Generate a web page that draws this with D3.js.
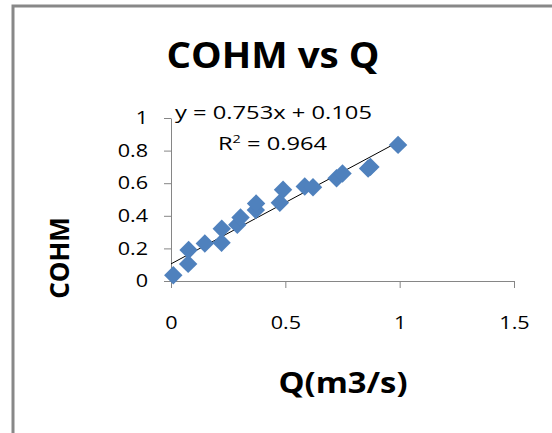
<!DOCTYPE html>
<html>
<head>
<meta charset="utf-8">
<script src="https://cdn.jsdelivr.net/npm/d3@7"></script>
<style>
  body { margin: 0; background: #fff; }
  svg { display: block; }
  text { font-family: "Open Sans", sans-serif; fill: #000; }
  .tick text { font-size: 18px; }
  .domain, .tick line { stroke: #868686; }
</style>
</head>
<body>
<div id="chart"></div>
<script>
// measured points (Q in m3/s, COHM)
var qValues    = [0.01, 0.075, 0.077, 0.148, 0.221, 0.222, 0.29, 0.304, 0.371, 0.372, 0.476, 0.49, 0.585, 0.621, 0.724, 0.75, 0.862, 0.872, 0.993];
var cohmValues = [0.035, 0.105, 0.19, 0.23, 0.235, 0.32, 0.345, 0.39, 0.435, 0.475, 0.48, 0.56, 0.58, 0.575, 0.63, 0.66, 0.69, 0.70, 0.835];
var xTicks = [0, 0.5, 1, 1.5];
var yTicks = [0, 0.2, 0.4, 0.6, 0.8, 1];
var slope = 0.753, intercept = 0.105;

var width = 552, height = 433;

var svg = d3.select("#chart").append("svg")
    .attr("width", width)
    .attr("height", height);

// chart area frame (only left and top edges show)
svg.append("rect")
    .attr("x", 13).attr("y", 6)
    .attr("width", 600).attr("height", 500)
    .attr("fill", "none")
    .attr("stroke", "#888")
    .attr("stroke-width", 3);

var x = d3.scaleLinear().domain([0, 1.5]).range([171, 514]);
var y = d3.scaleLinear().domain([0, 1]).range([281, 118]);

// stretch text horizontally, either to a width or by a factor
function widen(sel, target, factor) {
    sel.each(function() {
        var len = this.getComputedTextLength();
        d3.select(this)
            .attr("textLength", target || len * factor)
            .attr("lengthAdjust", "spacingAndGlyphs");
    });
}

// axes
var xAxis = svg.append("g")
    .attr("transform", "translate(0," + y(0) + ")")
    .call(d3.axisBottom(x).tickValues(xTicks).tickSize(7).tickSizeOuter(0).tickPadding(28)
        .tickFormat(d3.format("~g")));

var yAxis = svg.append("g")
    .attr("transform", "translate(" + x(0) + ",0)")
    .call(d3.axisLeft(y).tickValues(yTicks).tickSize(7).tickSizeOuter(0).tickPadding(16)
        .tickFormat(d3.format("~g")));

var tickFactor = 1.2;
xAxis.selectAll(".tick text").call(widen, null, tickFactor);
yAxis.selectAll(".tick text").call(widen, null, tickFactor);
svg.selectAll(".domain").attr("stroke", "#868686");

// trend line
var xMax = d3.max(qValues);
svg.append("line")
    .attr("x1", x(0)).attr("y1", y(intercept))
    .attr("x2", x(xMax)).attr("y2", y(slope * xMax + intercept))
    .attr("stroke", "#000")
    .attr("stroke-width", 1);

// markers
var points = qValues.map(function(q, i) { return { q: q, c: cohmValues[i] }; });
svg.append("g")
    .selectAll("path")
    .data(points)
    .enter().append("path")
    .attr("d", d3.symbol().type(d3.symbolSquare).size(170))
    .attr("transform", function(d) {
        return "translate(" + x(d.q) + "," + y(d.c) + ") rotate(45)";
    })
    .attr("fill", "#4f81bd");

// title
svg.append("text")
    .attr("x", 273).attr("y", 68)
    .attr("text-anchor", "middle")
    .style("font-size", "36px")
    .style("font-weight", "bold")
    .text("COHM vs Q")
    .call(widen, 213);

// equation labels
svg.append("text")
    .attr("x", 175).attr("y", 119)
    .style("font-size", "18px")
    .text("y = 0.753x + 0.105")
    .call(widen, 197);

var r2 = svg.append("text")
    .attr("x", 218).attr("y", 150)
    .style("font-size", "18px");
r2.append("tspan").text("R");
r2.append("tspan").attr("dy", -7).style("font-size", "11px").text("2");
r2.append("tspan").attr("dy", 7).text(" = 0.964");
r2.call(widen, 109);

// axis titles
svg.append("text")
    .attr("x", 343).attr("y", 393)
    .attr("text-anchor", "middle")
    .style("font-size", "28px")
    .style("font-weight", "bold")
    .text("Q(m3/s)")
    .call(widen, 129);

svg.append("text")
    .attr("transform", "translate(69,258) rotate(-90)")
    .attr("text-anchor", "middle")
    .style("font-size", "26px")
    .style("font-weight", "bold")
    .text("COHM");
</script>
</body>
</html>
